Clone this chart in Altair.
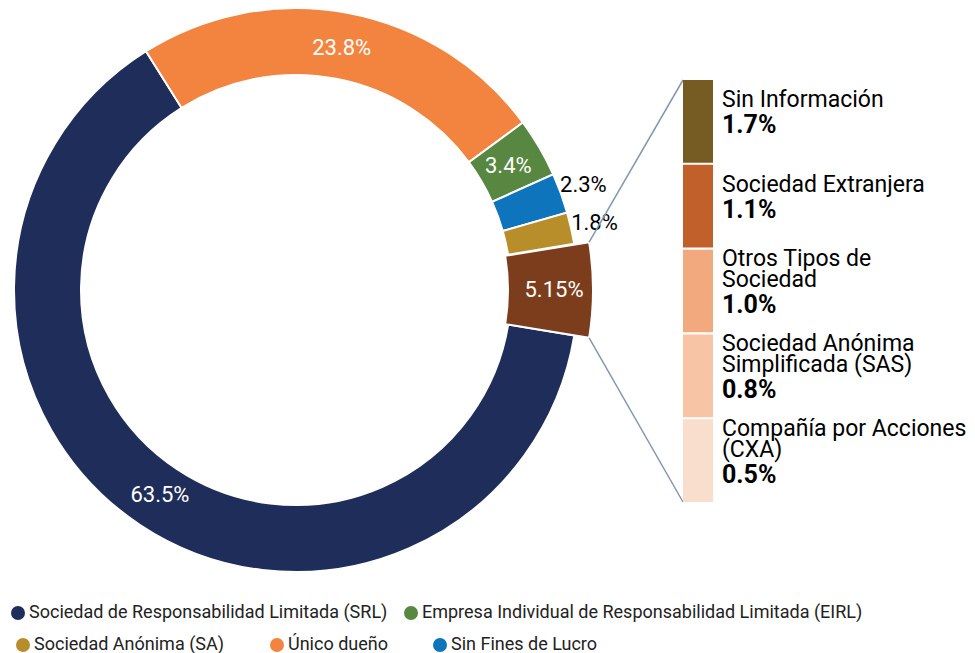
import math
import altair as alt
import pandas as pd

# ---------------- data ----------------
main_labels = [
    "Otros",
    "Sociedad de Responsabilidad Limitada (SRL)",
    "Único dueño",
    "Empresa Individual de Responsabilidad Limitada (EIRL)",
    "Sin Fines de Lucro",
    "Sociedad Anónima (SA)",
]
main_values = [5.15, 63.5, 23.8, 3.4, 2.3, 1.8]
main_text = ["5.15%", "63.5%", "23.8%", "3.4%", "2.3%", "1.8%"]
main_colors = ["#7C3D1D", "#1F2D5A", "#F2843F", "#578740", "#0E75BD", "#B88E2A"]

detail_names = [
    "Sin Información",
    "Sociedad Extranjera",
    "Otros Tipos de\nSociedad",
    "Sociedad Anónima\nSimplificada (SAS)",
    "Compañía por Acciones\n(CXA)",
]
detail_values = [1.7, 1.1, 1.0, 0.8, 0.5]
detail_text = ["1.7%", "1.1%", "1.0%", "0.8%", "0.5%"]
detail_colors = ["#765C22", "#C1602B", "#F2A97E", "#F7C4A5", "#F9DECD"]

legend_row1 = ["Sociedad de Responsabilidad Limitada (SRL)",
               "Empresa Individual de Responsabilidad Limitada (EIRL)"]
legend_row1_colors = ["#1F2D5A", "#578740"]
legend_row2 = ["Sociedad Anónima (SA)", "Único dueño", "Sin Fines de Lucro"]
legend_row2_colors = ["#B88E2A", "#F2843F", "#0E75BD"]

# ---------------- layout ----------------
W, H = 959, 650
CX, CY = 288, 282
R_OUT, R_IN = 282, 215
RB_OUT, RB_IN = 297, 212
BAR_X0, BAR_X1 = 675, 705
BAR_Y0, BAR_Y1 = 72, 494
PAD_INNER = 0.025
TEXT_X = 714
FONT = "Roboto"
n_rows = len(detail_names)
step = (BAR_Y1 - BAR_Y0) / (n_rows - PAD_INNER)
HALF = step * (1 - PAD_INNER) / 2

start_deg = 90 - main_values[0] * 3.6 / 2
a0 = math.radians(start_deg)
theta_scale = alt.Scale(domain=[0, 100], range=[a0, a0 + 2 * math.pi])

df = pd.DataFrame({
    "label": main_labels,
    "value": main_values,
    "text": main_text,
    "order": list(range(len(main_labels))),
})

base = (
    alt.Chart(df)
    .transform_window(cum="sum(value)", sort=[alt.SortField("order")], frame=[None, 0])
    .transform_calculate(start="datum.cum - datum.value",
                         mid="datum.cum - datum.value / 2")
)

slice_color = alt.Color("label:N", scale=alt.Scale(domain=main_labels, range=main_colors),
                        legend=None)
center = dict(x=alt.value(CX), y=alt.value(CY))

arcs = base.transform_filter("datum.order > 0").mark_arc(
    outerRadius=R_OUT, innerRadius=R_IN, stroke="white", strokeWidth=2
).encode(
    theta=alt.Theta("start:Q", scale=theta_scale, stack=None),
    theta2="cum:Q",
    color=slice_color,
    **center,
)

brown = base.transform_filter("datum.order == 0").mark_arc(
    outerRadius=RB_OUT, innerRadius=RB_IN, stroke="white", strokeWidth=2
).encode(
    theta=alt.Theta("start:Q", scale=theta_scale, stack=None),
    theta2="cum:Q",
    color=slice_color,
    **center,
)

lab_in = base.transform_filter("datum.order > 0 && datum.value >= 3").mark_text(
    radius=246, font=FONT, fontSize=22, color="white", align="center", baseline="middle"
).encode(theta=alt.Theta("mid:Q", scale=theta_scale, stack=None), text="text:N", **center)

lab_brown = base.transform_filter("datum.order == 0").mark_text(
    radius=258, font=FONT, fontSize=22, color="white", align="center", baseline="middle"
).encode(theta=alt.Theta("mid:Q", scale=theta_scale, stack=None), text="text:N", **center)

lab_out = base.transform_filter("datum.order > 0 && datum.value < 3").mark_text(
    radius=306, font=FONT, fontSize=22, color="black", align="center", baseline="middle"
).encode(theta=alt.Theta("mid:Q", scale=theta_scale, stack=None), text="text:N", **center)

# connector lines from the exploded slice to the breakdown bar
b0 = a0
b1 = a0 + math.radians(main_values[0] * 3.6)
p_top = (CX + RB_OUT * math.sin(b0), CY - RB_OUT * math.cos(b0))
p_bot = (CX + RB_OUT * math.sin(b1), CY - RB_OUT * math.cos(b1))
one = pd.DataFrame({"k": [0]})
line_top = alt.Chart(one).mark_rule(color="#8497B0", strokeWidth=1.5).encode(
    x=alt.value(p_top[0]), y=alt.value(p_top[1]), x2=alt.value(BAR_X0), y2=alt.value(BAR_Y0))
line_bot = alt.Chart(one).mark_rule(color="#8497B0", strokeWidth=1.5).encode(
    x=alt.value(p_bot[0]), y=alt.value(p_bot[1]), x2=alt.value(BAR_X0), y2=alt.value(BAR_Y1))

# breakdown bar
df2 = pd.DataFrame({"name": detail_names, "value": detail_values, "pct": detail_text})
yscale = alt.Scale(domain=detail_names, range=[BAR_Y0, BAR_Y1], paddingInner=PAD_INNER,
                   paddingOuter=0)
ybar = alt.Y("name:N", scale=yscale, axis=None)

bar = alt.Chart(df2).mark_rect().encode(
    y=ybar,
    x=alt.value(BAR_X0), x2=alt.value(BAR_X1),
    color=alt.Color("name:N", scale=alt.Scale(domain=detail_names, range=detail_colors), legend=None),
)

txt_base = alt.Chart(df2).transform_calculate(
    nl="indexof(datum.name, '\\n') >= 0 ? 2 : 1"
).transform_calculate(
    name_off=f"{HALF:.2f} - 10 - 11 * datum.nl",
    pct_off=f"{HALF:.2f} - 7 + 10.5 * datum.nl",
)
names = txt_base.mark_text(
    align="left", baseline="middle", font=FONT, fontSize=23, lineBreak="\n", lineHeight=21,
    color="black"
).encode(y=ybar, yOffset=alt.YOffset("name_off:Q", scale=None),
         x=alt.value(TEXT_X), text="name:N")
pcts = txt_base.mark_text(
    align="left", baseline="middle", font=FONT, fontSize=25, fontWeight="bold", color="black"
).encode(y=ybar, yOffset=alt.YOffset("pct_off:Q", scale=None),
         x=alt.value(TEXT_X), text="pct:N")

# legends
def legend_layer(items, colors, lx, ly, pad):
    d = pd.DataFrame({"lab": items})
    return alt.Chart(d).mark_circle(size=0, opacity=0).encode(
        x=alt.value(0), y=alt.value(0),
        color=alt.Color("lab:N", scale=alt.Scale(domain=items, range=colors),
                        legend=alt.Legend(
                            orient="none", legendX=lx, legendY=ly, direction="horizontal",
                            title=None, labelFont=FONT, labelFontSize=18, labelColor="#222222",
                            symbolType="circle", symbolSize=196, symbolOpacity=1,
                            symbolStrokeWidth=0, labelOffset=2, columnPadding=pad,
                            padding=0, labelLimit=600)),
    )

leg1 = legend_layer(legend_row1, legend_row1_colors, 1, 596, 14)
leg2 = legend_layer(legend_row2, legend_row2_colors, 6, 628, 43)

chart = alt.layer(
    arcs, brown, lab_in, lab_brown, lab_out, line_top, line_bot, bar, names, pcts, leg1, leg2
).resolve_scale(color="independent").properties(
    width=W, height=H, padding=0, autosize=alt.AutoSizeParams(type="none")
).configure_view(stroke=None)

chart.save("out.html", embed_options={"renderer": "svg", "actions": False})
